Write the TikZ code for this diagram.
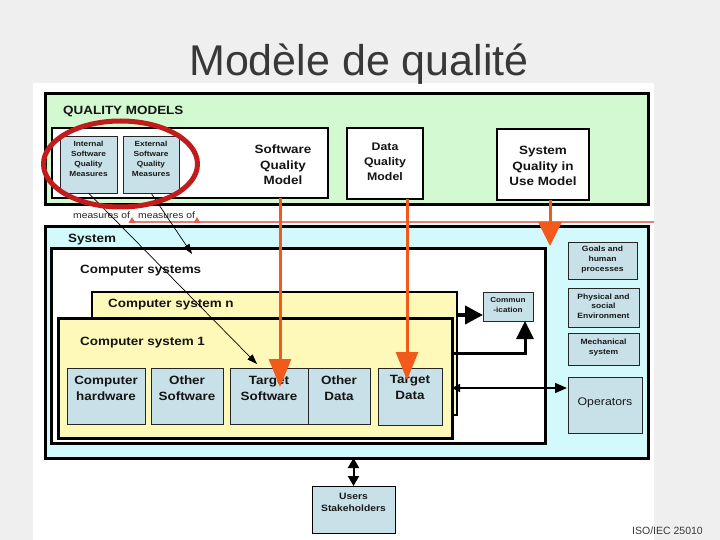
\documentclass[tikz,border=0pt]{standalone}
\usepackage{fontspec}
\setmainfont{Liberation Sans}
\newfontfamily\dg[FakeStretch=1.12]{Liberation Sans}
\usetikzlibrary{arrows.meta}
\definecolor{slidebg}{HTML}{EFEFEF}
\definecolor{titlegray}{HTML}{383838}
\definecolor{qgreen}{HTML}{D3F9D1}
\definecolor{cyanf}{HTML}{D2FAFC}
\definecolor{yel}{HTML}{FFF9B9}
\definecolor{bluef}{HTML}{C8E1E8}
\definecolor{orng}{HTML}{F25A1C}
\definecolor{ellred}{HTML}{C21B1B}
\definecolor{salmon}{HTML}{E08078}
\begin{document}
\begin{tikzpicture}[x=1pt,y=-1pt,
  box/.style={draw=black, inner sep=0pt, outer sep=0pt},
  bluebox/.style={box, fill=bluef, line width=0.6pt, draw=black!85},
  lbl/.style={font=\dg\bfseries\fontsize{12}{15.5}\selectfont, align=center, inner sep=0pt, text=black!92},
  smalltxt/.style={font=\dg\bfseries\fontsize{7.4}{9.8}\selectfont, align=center, inner sep=0pt, text=black!90},
  thinarrow/.style={line width=0.7pt, -{Triangle[length=10pt,width=7pt]}},
  orarrow/.style={orng, line width=3pt, -{Triangle[length=28pt,width=22pt]}}
]
\useasboundingbox (0,0) rectangle (720,540);
\fill[slidebg] (0,0) rectangle (720,540);
\fill[white] (33,83) rectangle (654,540);

% title
\node[font=\fontsize{43}{50}\selectfont, text=titlegray, anchor=base, inner sep=0pt] (title) at (359,76) {Modèle de qualité};

% quality models
\node[box, line width=3pt, fill=qgreen, minimum width=603pt, minimum height=111pt] (qm) at (346.5,149.5) {};
\node[lbl, anchor=base west] (qmT) at (63,115) {QUALITY MODELS};
\node[box, line width=2pt, fill=white, minimum width=276pt, minimum height=70pt] (sqm) at (190,163) {};
\node[bluebox, minimum width=57pt, minimum height=57pt] (ism) at (88.5,164.5) {};
\node[smalltxt] (ismT) at (88.5,159) {Internal\\Software\\Quality\\Measures};
\node[bluebox, minimum width=56pt, minimum height=57pt] (esm) at (151,164.5) {};
\node[smalltxt] (esmT) at (151,159) {External\\Software\\Quality\\Measures};
\node[lbl] (sqmT) at (283,165) {Software\\Quality\\Model};
\node[box, line width=2pt, fill=white, minimum width=76pt, minimum height=71pt] (dqm) at (385,163.5) {};
\node[lbl, font=\dg\bfseries\fontsize{11}{15}\selectfont] (dqmT) at (385,162) {Data\\Quality\\Model};
\node[box, line width=2pt, fill=white, minimum width=92pt, minimum height=71pt] (squ) at (543,164.5) {};
\node[lbl] (squT) at (543,166) {System\\Quality in\\Use Model};

% measures of
\coordinate (m1) at (132,222);
\coordinate (m2) at (197,222);
\coordinate (mR) at (654,222);
\draw[salmon, line width=1.3pt] (m1) -- (mR);
\foreach \c in {m1,m2} \fill[salmon!70!red] (\c) ++(-3.5,1) -- ++(3.5,-6) -- ++(3.5,6) -- cycle;
\node[font=\dg\fontsize{9.2}{11}\selectfont, text=black!85, anchor=base west, inner sep=0pt] (mo1) at (73,218.5) {measures of};
\node[font=\dg\fontsize{9.2}{11}\selectfont, text=black!85, anchor=base west, inner sep=0pt] (mo2) at (138,218.5) {measures of};

% system
\node[box, line width=3pt, fill=cyanf, minimum width=603pt, minimum height=231pt] (sys) at (346.5,342.5) {};
\node[lbl, anchor=base west] (sysT) at (68,242) {System};
\node[box, line width=3pt, fill=white, minimum width=494pt, minimum height=195pt] (cs) at (298,345.5) {};
\node[lbl, anchor=base west] (csT) at (80,273.5) {Computer systems};
\node[box, line width=2pt, fill=yel, minimum width=365pt, minimum height=123pt] (csn) at (274.5,353.5) {};
\node[lbl, anchor=base west] (csnT) at (108,307.5) {Computer system n};
\node[box, line width=3pt, fill=yel, minimum width=394pt, minimum height=120pt] (cs1) at (255,378) {};
\node[lbl, anchor=base west] (cs1T) at (80,345) {Computer system 1};

\node[bluebox, minimum width=78pt, minimum height=56pt] (hw) at (106,396) {};
\node[lbl, font=\dg\bfseries\fontsize{12}{16}\selectfont] (hwT) at (106,388) {Computer\\hardware};
\node[bluebox, minimum width=72pt, minimum height=56pt] (osw) at (187,396) {};
\node[lbl, font=\dg\bfseries\fontsize{12}{16}\selectfont] (oswT) at (187,388) {Other\\Software};
\node[bluebox, minimum width=78pt, minimum height=56pt] (ts) at (269,396) {};
\node[lbl, font=\dg\bfseries\fontsize{12}{16}\selectfont] (tsT) at (269,388) {Target\\Software};
\node[bluebox, minimum width=62pt, minimum height=56pt] (od) at (339,396) {};
\node[lbl, font=\dg\bfseries\fontsize{12}{16}\selectfont] (odT) at (339,388) {Other\\Data};
\node[bluebox, minimum width=64pt, minimum height=57pt] (td) at (410,396.5) {};
\node[lbl, font=\dg\bfseries\fontsize{12}{16}\selectfont] (tdT) at (410,387.5) {Target\\Data};

\node[bluebox, minimum width=50pt, minimum height=29pt] (com) at (508,306.5) {};
\node[smalltxt, font=\dg\bfseries\fontsize{7.3}{10}\selectfont] (comT) at (508,305) {Commun\\-ication};

% right side boxes
\node[bluebox, minimum width=69pt, minimum height=37pt] (goals) at (602.5,260.5) {};
\node[smalltxt, font=\dg\bfseries\fontsize{7.6}{10}\selectfont] (goalsT) at (602.5,260) {Goals and\\human\\processes};
\node[bluebox, minimum width=71pt, minimum height=39pt] (phys) at (603.5,307.5) {};
\node[smalltxt, font=\dg\bfseries\fontsize{7.6}{9.3}\selectfont] (physT) at (603.5,306) {Physical and\\social\\Environment};
\node[bluebox, minimum width=71pt, minimum height=32pt] (mech) at (603.5,349) {};
\node[smalltxt, font=\dg\bfseries\fontsize{7.6}{10}\selectfont] (mechT) at (603.5,347.5) {Mechanical\\system};
\node[bluebox, minimum width=74pt, minimum height=56pt] (ops) at (605,405) {};
\node[font=\dg\fontsize{11}{13}\selectfont, inner sep=0pt, text=black!90] (opsT) at (605,403) {Operators};

% users
\node[bluebox, draw=black, minimum width=83pt, minimum height=47pt] (users) at (353.5,509.5) {};
\node[smalltxt, font=\dg\bfseries\fontsize{9.2}{12}\selectfont] (usersT) at (353.5,502) {Users\\Stakeholders};

\node[font=\fontsize{10.5}{12}\selectfont, text=titlegray, anchor=base west, inner sep=0pt] (iso) at (632,534) {ISO/IEC 25010};

% black arrows
\coordinate (comin) at (483,315);
\draw[line width=4pt, -{Triangle[length=18pt,width=18pt]}] (csn.east |- comin) -- (comin);
\coordinate (elb) at (525,353);
\draw[line width=3pt, line join=miter, -{Triangle[length=18pt,width=17pt]}] (cs1.east |- elb) -- (elb) -- (elb |- com.south);
\coordinate (opin) at (567,388);
\draw[line width=1.5pt, {Triangle[length=8pt,width=8pt]}-{Triangle[length=12pt,width=10pt]}] (cs1.east |- opin) -- (opin);
\draw[line width=2pt, {Triangle[length=10pt,width=11pt]}-{Triangle[length=10pt,width=11pt]}] (sys.south -| users.north) -- (users.north);

% thin measure arrows
\coordinate (tsA) at (257,364);
\coordinate (csA) at (192,254);
\draw[thinarrow] (ism.south) -- (tsA);
\draw[thinarrow] (esm.south) -- (csA);

% orange arrows
\coordinate (tsO) at (280,387);
\coordinate (tdO) at (407,380);
\coordinate (suO) at (550,246);
\draw[orarrow] (sqm.south -| tsO) -- (tsO);
\draw[orarrow] (dqm.south -| tdO) -- (tdO);
\draw[orng, line width=3pt, -{Triangle[length=24pt,width=23pt]}] (squ.south -| suO) -- (suO);

% red ellipse
\draw[ellred, line width=5pt] (120.5,164) ellipse [x radius=77pt, y radius=43pt];
\end{tikzpicture}
\end{document}
